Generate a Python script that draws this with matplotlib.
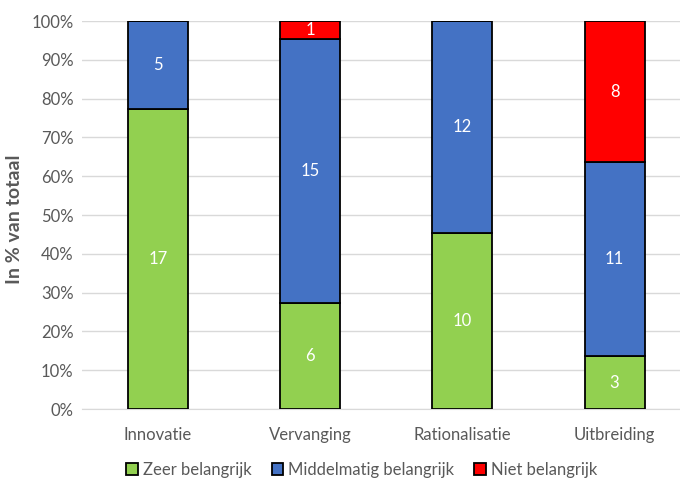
import numpy as np
import matplotlib
matplotlib.use("Agg")
import matplotlib.pyplot as plt
from matplotlib.ticker import PercentFormatter

plt.rcParams['font.family'] = ['Lato', 'DejaVu Sans']

# counts per category (from chart labels)
categories = ['Innovatie', 'Vervanging', 'Rationalisatie', 'Uitbreiding']
zeer = [17, 6, 10, 3]
middel = [5, 15, 12, 11]
niet = [0, 1, 0, 8]
series_names = ['Zeer belangrijk', 'Middelmatig belangrijk', 'Niet belangrijk']
colors = ['#92D050', '#4472C4', '#FF0000']

counts = np.array([zeer, middel, niet], dtype=float)
totals = counts.sum(axis=0)
shares = counts / totals * 100

fig = plt.figure(figsize=(6.8, 4.83), dpi=100)
ax = fig.add_axes([82 / 680, (483 - 409) / 483, 1 - 82 / 680, (409 - 21) / 483])

x = np.arange(len(categories))
bottom = np.zeros(len(categories))
for i, name in enumerate(series_names):
    bars = ax.bar(x, shares[i], 0.395, bottom=bottom, color=colors[i],
                  edgecolor='black', linewidth=1.3, label=name, zorder=3)
    for j, b in enumerate(bars):
        if counts[i, j] > 0:
            ax.text(b.get_x() + b.get_width() / 2, bottom[j] + shares[i, j] / 2,
                    f"{int(counts[i, j])}", ha='center', va='center',
                    color='white', fontsize=12, zorder=4)
    bottom += shares[i]

ax.set_xlim(-0.5, 3.43)
ax.set_ylim(0, 100)
ax.set_yticks(np.arange(0, 101, 10))
ax.yaxis.set_major_formatter(PercentFormatter(decimals=0))
ax.set_xticks(x)
ax.set_xticklabels(categories)
ax.tick_params(axis='both', length=0, colors='#595959', labelsize=12)
ax.tick_params(axis='x', pad=13)
ax.tick_params(axis='y', pad=6)
ax.grid(axis='y', color='#D9D9D9', linewidth=1, zorder=0)
for s in ['top', 'right', 'left']:
    ax.spines[s].set_visible(False)
ax.spines['bottom'].set_color('#D9D9D9')
ax.set_ylabel('In % van totaal', fontsize=14, fontweight='bold', color='#595959')
ax.yaxis.set_label_coords(-0.098, 0.49)

handles, labels = ax.get_legend_handles_labels()
fig.legend(handles, labels, loc='center', bbox_to_anchor=(0.532, 13 / 483), ncol=3,
           frameon=False, fontsize=12, handlelength=0.7, handleheight=0.7,
           handletextpad=0.3, columnspacing=1.2, labelcolor='#595959')

fig.savefig('out.png', dpi=100)
